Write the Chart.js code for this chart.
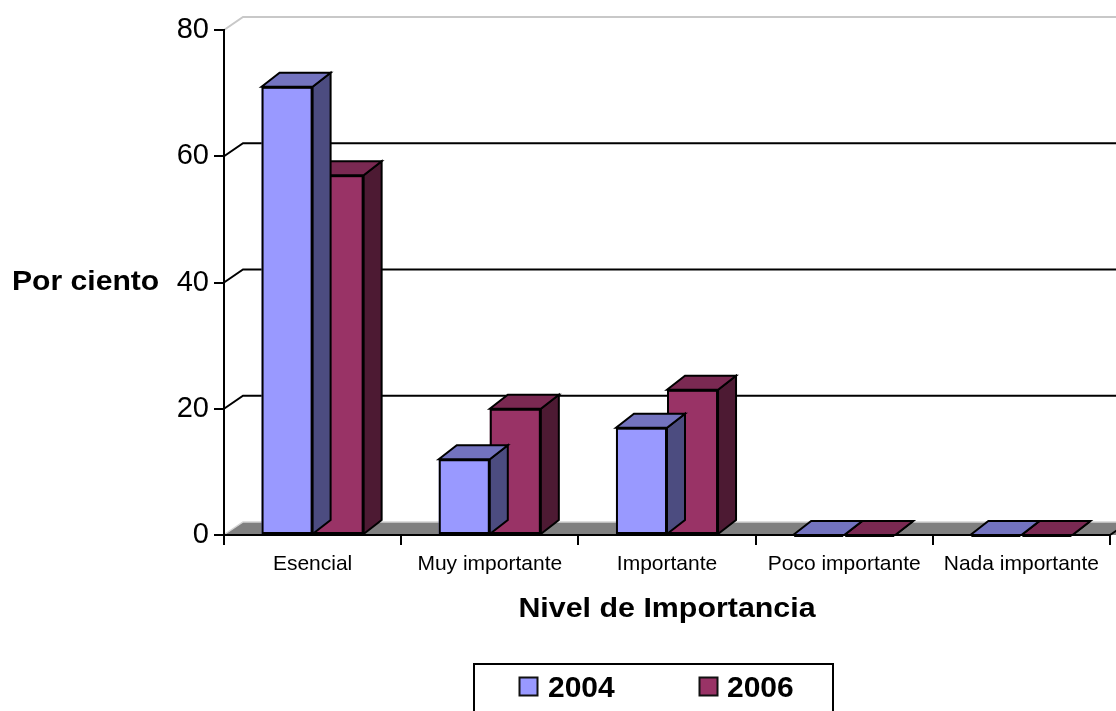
<!DOCTYPE html>
<html lang="es">
<head>
<meta charset="utf-8">
<title>Nivel de Importancia</title>
<script src="https://cdn.jsdelivr.net/npm/chart.js@4.4.1/dist/chart.umd.min.js"></script>
<style>
  html, body { margin: 0; padding: 0; background: #ffffff; }
  #chart { display: block; width: 1116px; height: 711px; }
</style>
</head>
<body>
<canvas id="chart" width="1116" height="711"></canvas>
<script>
// Survey results: share of answers per importance level, two survey years
const categories = ['Esencial', 'Muy importante', 'Importante', 'Poco importante', 'Nada importante'];
const values2004 = [71, 12, 17, 0, 0];
const values2006 = [57, 20, 23, 0, 0];
const seriesNames = ['2004', '2006'];
const yTickValues = [0, 20, 40, 60, 80];
const yTitle = 'Por ciento';
const xTitle = 'Nivel de Importancia';

const FONT = "'Liberation Sans', Arial, Helvetica, sans-serif";
Chart.defaults.font.family = FONT;

// Face colours for each series: front, top, side
const faces = [
  { front: '#9999FF', top: '#7373BF', side: '#4C4C80' },
  { front: '#993366', top: '#7A2952', side: '#4D1A33' }
];

// Depth offsets of the pseudo-3D box (back wall / floor) and of the bars
const WALL_DX = 19, WALL_DY = 13;
const BAR_DX = 18, BAR_DY = 14;

function stretchedText(ctx, text, x, y, sx, align) {
  ctx.save();
  ctx.translate(x, y);
  ctx.scale(sx, 1);
  ctx.textAlign = align;
  ctx.textBaseline = 'alphabetic';
  ctx.fillText(text, 0, 0);
  ctx.restore();
}

// Back wall gridlines and grey floor, painted before the axes
const wallAndFloor = {
  id: 'wallAndFloor',
  beforeDraw(chart) {
    const { ctx, chartArea: a, scales } = chart;
    const y = scales.y;
    const W = chart.width;
    ctx.save();
    ctx.lineCap = 'butt';
    yTickValues.forEach(v => {
      if (v === 0) return;
      const py = y.getPixelForValue(v);
      const top = v === yTickValues[yTickValues.length - 1];
      ctx.strokeStyle = top ? '#c8c8c8' : '#000000';
      ctx.lineWidth = 2;
      ctx.beginPath();
      ctx.moveTo(a.left, py);
      ctx.lineTo(a.left + WALL_DX, py - WALL_DY);
      ctx.lineTo(W + 5, py - WALL_DY);
      ctx.stroke();
    });
    // floor
    const by = y.getPixelForValue(0);
    ctx.fillStyle = '#808080';
    ctx.beginPath();
    ctx.moveTo(a.left, by);
    ctx.lineTo(a.left + WALL_DX, by - WALL_DY);
    ctx.lineTo(W + 5, by - WALL_DY);
    ctx.lineTo(W + 5, by);
    ctx.closePath();
    ctx.fill();
    ctx.strokeStyle = '#d4d4d4';
    ctx.lineWidth = 1.5;
    ctx.beginPath();
    ctx.moveTo(a.left + 1, by - 1);
    ctx.lineTo(a.left + WALL_DX, by - WALL_DY);
    ctx.lineTo(W + 5, by - WALL_DY);
    ctx.stroke();
    // right end of the floor front edge
    ctx.strokeStyle = '#000000';
    ctx.lineWidth = 2;
    ctx.beginPath();
    ctx.moveTo(a.right, by);
    ctx.lineTo(a.right + WALL_DX, by - WALL_DY);
    ctx.stroke();
    ctx.restore();
  }
};

// Side and top faces of every bar, drawn right after its dataset
const barDepth = {
  id: 'barDepth',
  afterDatasetDraw(chart, args) {
    const { ctx } = chart;
    const col = faces[args.index];
    ctx.save();
    ctx.lineWidth = 2;
    ctx.lineJoin = 'miter';
    ctx.strokeStyle = '#000000';
    args.meta.data.forEach(el => {
      const { x, y, base, width } = el.getProps(['x', 'y', 'base', 'width'], true);
      const l = x - width / 2, r = x + width / 2;
      // side
      ctx.fillStyle = col.side;
      ctx.beginPath();
      ctx.moveTo(r, y);
      ctx.lineTo(r + BAR_DX, y - BAR_DY);
      ctx.lineTo(r + BAR_DX, base - BAR_DY);
      ctx.lineTo(r, base);
      ctx.closePath();
      ctx.fill();
      ctx.stroke();
      // top
      ctx.fillStyle = col.top;
      ctx.beginPath();
      ctx.moveTo(l, y);
      ctx.lineTo(l + BAR_DX, y - BAR_DY);
      ctx.lineTo(r + BAR_DX, y - BAR_DY);
      ctx.lineTo(r, y);
      ctx.closePath();
      ctx.fill();
      ctx.stroke();
      // front outline (covers the zero-height case too)
      ctx.strokeRect(l + 1, Math.min(y, base) + 1, width - 2, Math.max(Math.abs(base - y) - 2, 0));
    });
    ctx.restore();
  }
};

// Axis titles and the boxed legend
const titlesAndLegend = {
  id: 'titlesAndLegend',
  afterDraw(chart) {
    const { ctx, chartArea: a, scales } = chart;
    ctx.save();
    ctx.fillStyle = '#000000';
    ctx.font = 'bold 28px ' + FONT;
    stretchedText(ctx, yTitle, 12, scales.y.getPixelForValue(40) + 7, 1.075, 'left');
    ctx.font = 'bold 28px ' + FONT;
    stretchedText(ctx, xTitle, (a.left + a.right) / 2, 617, 1.085, 'center');

    // legend box
    ctx.strokeStyle = '#000000';
    ctx.lineWidth = 2;
    ctx.strokeRect(474, 664, 359, 80);
    const sqX = [519.5, 699.5];
    const txX = [548, 727];
    chart.data.datasets.forEach((ds, i) => {
      ctx.fillStyle = ds.backgroundColor;
      ctx.fillRect(sqX[i], 677.5, 18, 18);
      ctx.strokeStyle = '#111111';
      ctx.lineWidth = 2;
      ctx.strokeRect(sqX[i], 677.5, 18, 18);
      ctx.fillStyle = '#000000';
      ctx.font = 'bold 30px ' + FONT;
      ctx.textAlign = 'left';
      ctx.textBaseline = 'alphabetic';
      ctx.fillText(ds.label, txX[i], 697);
    });
    ctx.restore();
  }
};

new Chart(document.getElementById('chart'), {
  type: 'bar',
  data: {
    labels: categories,
    datasets: [
      { label: seriesNames[0], data: values2004, backgroundColor: faces[0].front, borderWidth: 0 },
      { label: seriesNames[1], data: values2006, backgroundColor: faces[1].front, borderWidth: 0 }
    ]
  },
  options: {
    responsive: false,
    animation: false,
    devicePixelRatio: 1,
    layout: { padding: { top: 30, right: 6, bottom: 0, left: 0 } },
    datasets: { bar: { categoryPercentage: 0.576, barPercentage: 1.0 } },
    plugins: { legend: { display: false }, tooltip: { enabled: false } },
    scales: {
      x: {
        grid: { display: true, drawOnChartArea: false, drawTicks: true, tickLength: 10, color: '#000000', lineWidth: 2, offset: true },
        border: { display: true, color: '#000000', width: 2 },
        ticks: { color: '#000000', font: { size: 21 }, padding: 7, maxRotation: 0, autoSkip: false },
        afterFit(scale) { scale.height = 176; }
      },
      y: {
        min: 0,
        max: 80,
        afterBuildTicks(scale) { scale.ticks = yTickValues.map(v => ({ value: v })); },
        grid: { drawOnChartArea: false, drawTicks: true, tickLength: 10, color: '#000000', lineWidth: 2 },
        border: { display: true, color: '#000000', width: 2 },
        ticks: { color: '#000000', font: { size: 29 }, padding: 5 },
        afterFit(scale) { scale.width = 224; }
      }
    }
  },
  plugins: [wallAndFloor, barDepth, titlesAndLegend]
});
</script>
</body>
</html>
